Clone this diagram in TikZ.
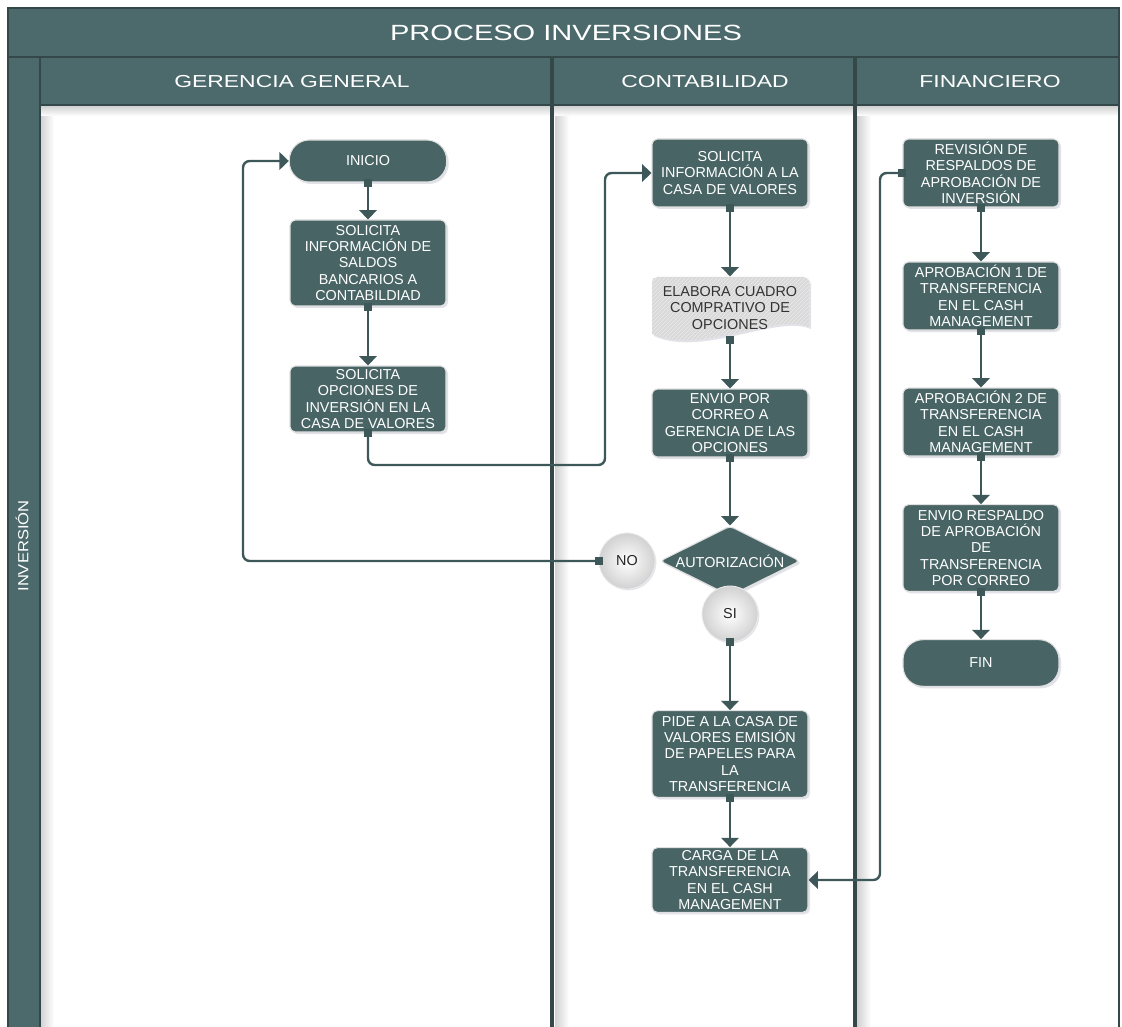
\documentclass[tikz,border=0pt]{standalone}
\usepackage{fontspec}
\setmainfont{Liberation Sans}
\newfontfamily\widefont[FakeStretch=1.32]{Liberation Sans}
\newfontfamily\midfont[FakeStretch=1.13]{Liberation Sans}
\usetikzlibrary{arrows.meta,shapes.geometric,shadows,patterns,positioning}

\definecolor{lanecol}{RGB}{76,106,108}
\definecolor{lanedark}{RGB}{52,72,74}
\definecolor{boxcol}{RGB}{72,100,101}
\definecolor{linecol}{RGB}{62,88,90}

\tikzset{
  proc/.style={rectangle, rounded corners=4pt, fill=boxcol, draw=black!12, line width=0.8pt,
    text=white, align=center, font=\fontsize{10.8}{12.3}\selectfont, minimum width=117pt,
    minimum height=51pt, inner sep=2pt,
    drop shadow={shadow xshift=1.5pt, shadow yshift=-1.5pt, fill=blue!25!black!25, opacity=0.45}},
  term/.style={proc, rounded corners=15pt, minimum height=31.5pt},
  bubble/.style={circle, minimum size=42pt, inner sep=0pt, draw=black!8, line width=0.6pt,
    inner color=white, outer color=black!18, text=black!85, font=\fontsize{10.8}{12}\selectfont,
    drop shadow={shadow xshift=1pt, shadow yshift=-1pt, fill=blue!25!black!25, opacity=0.4}},
  flow/.style={line width=1.8pt, draw=linecol, rounded corners=5pt,
    {Square[length=6pt,width=6pt]}-{Triangle[width=13pt,length=7pt]}, shorten <=-3pt},
  lanetext/.style={text=white, font=\widefont\fontsize{13}{15}\selectfont}
}

\begin{document}
\begin{tikzpicture}[x=0.75pt,y=-0.75pt]
\useasboundingbox (0,0) rectangle (1122,1027);

% lanes
\fill[white] (8,8) rectangle (1119,1027);
\shade[left color=black!18, right color=white] (40,105) rectangle (54,1027);
\shade[left color=black!18, right color=white] (555,105) rectangle (569,1027);
\shade[left color=black!18, right color=white] (857,105) rectangle (871,1027);
\shade[top color=black!20, bottom color=white] (40,105) rectangle (1119,116);
\fill[lanecol] (8,8) rectangle (1119,57);
\fill[lanecol] (8,57) rectangle (40,1027);
\fill[lanecol] (40,57) rectangle (1119,105);
\draw[lanedark, line width=1.2pt] (8,1027) -- (8,8) -- (1119,8) -- (1119,1027);
\draw[lanedark, line width=1.2pt] (8,57) -- (1119,57) (40,105) -- (1119,105) (40,57) -- (40,1027);
\draw[lanedark, line width=3pt] (552,57) -- (552,1027) (855,57) -- (855,1027);

\node (title) at (566,33) [lanetext, font=\widefont\fontsize{16.5}{18}\selectfont] {PROCESO INVERSIONES};
\node (hgg) at (292,82) [lanetext] {GERENCIA GENERAL};
\node (hcon) at (705,82) [lanetext] {CONTABILIDAD};
\node (hfin) at (990,82) [lanetext] {FINANCIERO};
\node (hinv) at (22,546) [rotate=90, text=white, font=\midfont\fontsize{11}{13}\selectfont] {INVERSIÓN};

% gerencia general
\node (inicio) at (368,161) [term, minimum width=118pt] {INICIO};
\node (salbanc) at (368,263) [proc, minimum height=64.5pt] {SOLICITA\\INFORMACIÓN DE\\SALDOS\\BANCARIOS A\\CONTABILDIAD};
\node (opcinv) at (368,399) [proc, minimum height=49.5pt] {SOLICITA\\OPCIONES DE\\INVERSIÓN EN LA\\CASA DE VALORES};

% contabilidad
\node (infcasa) at (730,173) [proc] {SOLICITA\\INFORMACIÓN A LA\\CASA DE VALORES};
\fill[black!15, drop shadow={shadow xshift=1.5pt, shadow yshift=-1.5pt, fill=blue!25!black!25, opacity=0.45}]
  (652,281) [rounded corners=4pt] -- (652,277) -- (809,277) [sharp corners] -- (809,327)
  .. controls (775,312) and (700,356) .. (652,334) -- cycle;
\fill[pattern=north east lines, pattern color=white!92!black]
  (652,281) -- (652,278) -- (809,278) -- (809,327)
  .. controls (775,312) and (700,356) .. (652,334) -- cycle;
\node (elab) at (730,308) [minimum width=117pt, minimum height=47pt, inner sep=2pt, align=center,
  text=black!80, font=\fontsize{10.8}{12.3}\selectfont] {ELABORA CUADRO\\COMPRATIVO DE\\OPCIONES};
\node (envio) at (730,423) [proc] {ENVIO POR\\CORREO A\\GERENCIA DE LAS\\OPCIONES};
\node (autor) at (730,561) [diamond, aspect=2, fill=boxcol, draw=black!12, line width=0.8pt, rounded corners=3pt,
  minimum width=105pt, minimum height=52.5pt, inner sep=0pt, text=white, font=\fontsize{10.8}{12}\selectfont,
  drop shadow={shadow xshift=1.5pt, shadow yshift=-1.5pt, fill=blue!25!black!25, opacity=0.45}] {AUTORIZACIÓN};
\node (no) at (627,561) [bubble] {NO};
\node (si) at (730,614) [bubble] {SI};
\node (pide) at (730,754) [proc, minimum height=65pt] {PIDE A LA CASA DE\\VALORES EMISIÓN\\DE PAPELES PARA\\LA\\TRANSFERENCIA};
\node (carga) at (730,880) [proc, minimum height=48pt] {CARGA DE LA\\TRANSFERENCIA\\EN EL CASH\\MANAGEMENT};

% financiero
\node (revis) at (981,173) [proc] {REVISIÓN DE\\RESPALDOS DE\\APROBACIÓN DE\\INVERSIÓN};
\node (aprob1) at (981,296) [proc] {APROBACIÓN 1 DE\\TRANSFERENCIA\\EN EL CASH\\MANAGEMENT};
\node (aprob2) at (981,422) [proc] {APROBACIÓN 2 DE\\TRANSFERENCIA\\EN EL CASH\\MANAGEMENT};
\node (envresp) at (981,548) [proc, minimum height=65pt] {ENVIO RESPALDO\\DE APROBACIÓN\\DE\\TRANSFERENCIA\\POR CORREO};
\node (fin) at (981,663) [term, minimum height=35pt] {FIN};

\coordinate (optturn) at (605,465);
\coordinate (noturn) at (243,561);
\coordinate (revturn) at (880,173);

\draw[flow] (inicio) -- (salbanc);
\draw[flow] (salbanc) -- (opcinv);
\draw[flow] (opcinv.south) |- (optturn) |- (infcasa.west);
\draw[flow] (infcasa) -- (elab);
\draw[flow] (elab) -- (envio);
\draw[flow] (envio) -- (autor);
\draw[flow] (no.west) -- (noturn) |- (inicio.west);
\draw[flow] (si) -- (pide);
\draw[flow] (pide) -- (carga);
\draw[flow] (revis.west) -- (revturn) |- (carga.east);
\draw[flow] (revis) -- (aprob1);
\draw[flow] (aprob1) -- (aprob2);
\draw[flow] (aprob2) -- (envresp);
\draw[flow] (envresp) -- (fin);
\end{tikzpicture}
\end{document}
